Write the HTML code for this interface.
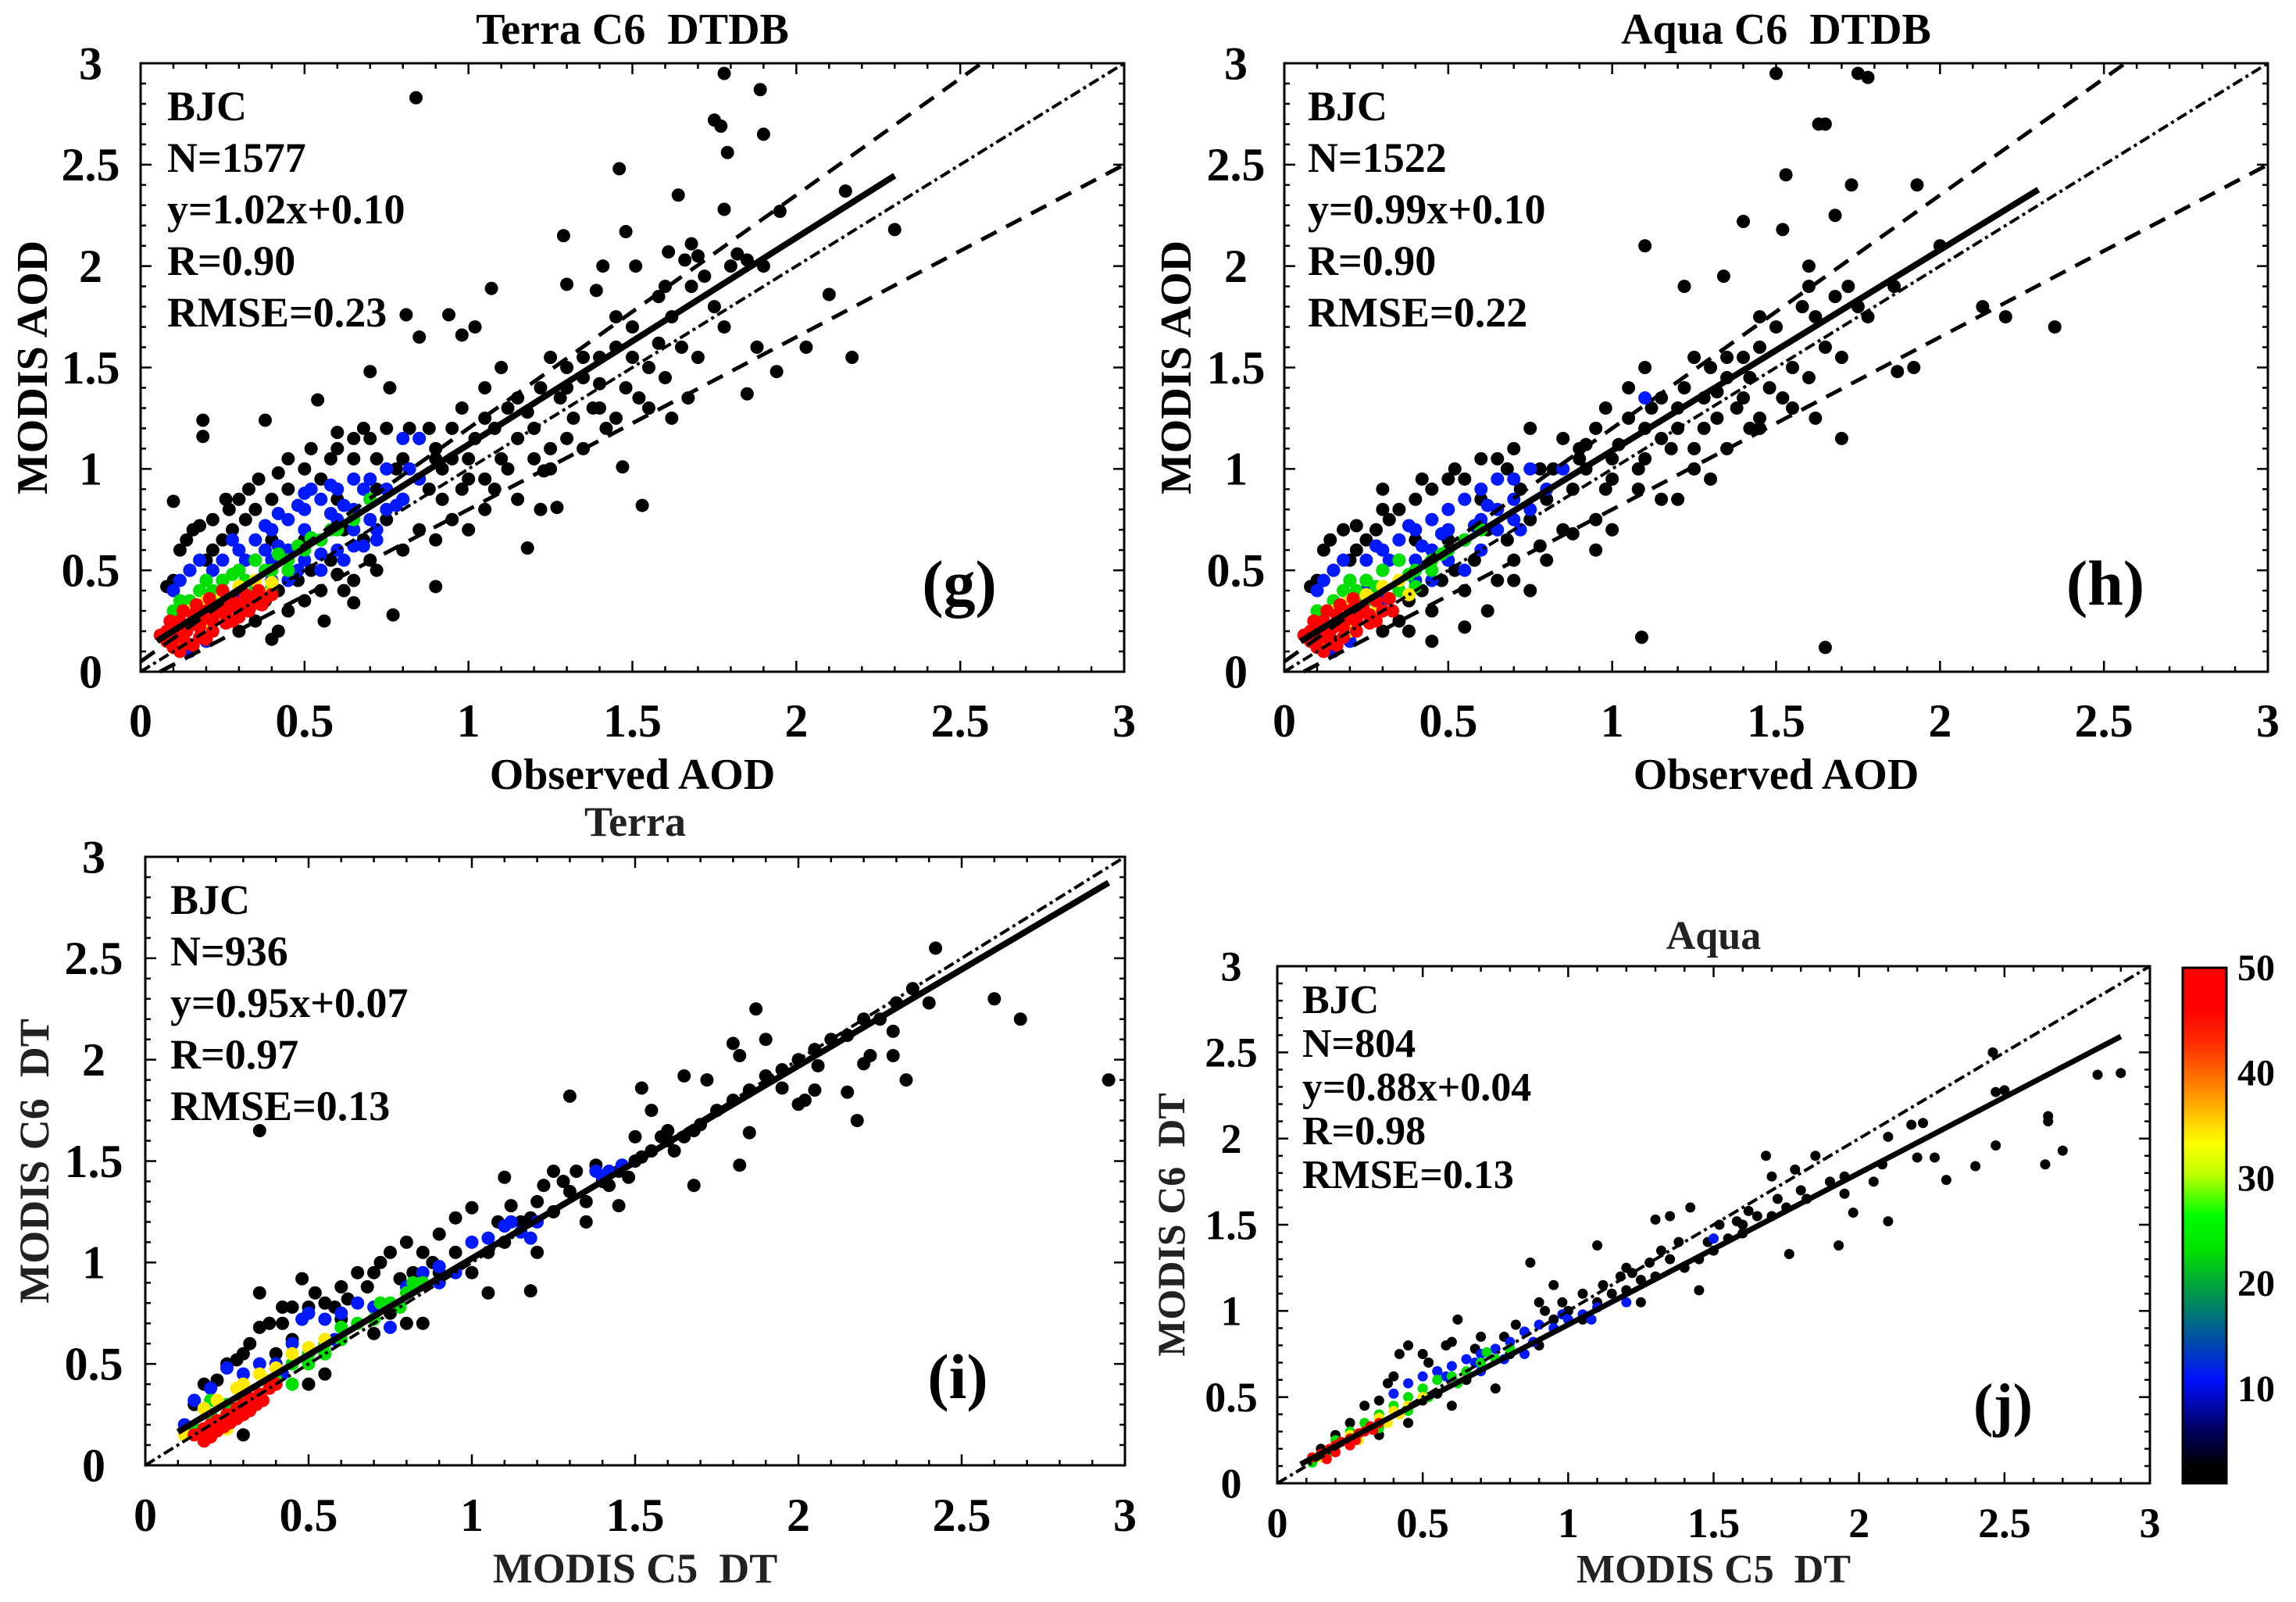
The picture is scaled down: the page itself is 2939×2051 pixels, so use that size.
<!DOCTYPE html>
<html><head><meta charset="utf-8"><style>
html,body{margin:0;padding:0;background:#fff;}
svg{display:block;font-family:"Liberation Serif",serif;font-weight:bold;}
text{white-space:pre;}
</style></head><body>
<svg id="fig" width="2939" height="2051" viewBox="0 0 2939 2051" xmlns="http://www.w3.org/2000/svg"></svg>
<script>
// ---------- data ----------
const tickValues = [0, 0.5, 1, 1.5, 2, 2.5, 3];
const tickLabels = ["0", "0.5", "1", "1.5", "2", "2.5", "3"];

const gBlack = [[0.84,2.83],[1.78,2.95],[1.89,2.87],[1.75,2.72],[1.77,2.69],[1.90,2.65],[1.79,2.56],[1.46,2.48],[2.15,2.37],[1.64,2.35],[1.78,2.28],[1.95,2.27],[2.30,2.18],[1.29,2.15],[1.48,2.17],[1.61,2.07],[1.68,2.11],[1.66,2.03],[1.41,2.0],[1.51,2.0],[1.30,1.91],[1.07,1.89],[1.39,1.88],[1.82,2.06],[1.85,2.03],[2.10,1.86],[2.17,1.55],[2.03,1.60],[1.88,1.60],[1.94,1.48],[1.85,1.37],[1.67,1.35],[1.47,1.01],[1.53,0.82],[1.18,0.61],[1.22,0.80],[1.27,0.81],[1.23,0.99],[0.94,1.76],[0.81,1.76],[0.85,1.65],[0.98,1.66],[1.02,1.70],[0.70,1.48],[0.76,1.40],[0.54,1.34],[0.19,1.24],[0.19,1.16],[0.38,1.24],[0.10,0.84],[0.90,0.42],[0.77,0.28],[0.65,0.34],[0.56,0.25],[0.40,0.16],
[0.9,1.1],[0.95,1.2],[1.0,0.95],[1.05,1.25],[1.1,1.05],[1.12,1.3],[1.15,1.15],[1.2,1.2],[1.22,1.4],[1.25,1.1],[1.28,1.35],[1.3,1.5],[1.32,1.25],[1.35,1.45],[1.38,1.3],[1.4,1.55],[1.42,1.2],[1.45,1.6],[1.48,1.4],[1.5,1.7],[1.52,1.35],[1.55,1.5],[1.58,1.85],[1.6,1.45],[1.62,1.75],[1.65,1.6],[1.68,1.9],[1.7,1.55],[1.72,1.95],[1.75,1.8],[1.78,1.7],[1.8,2.0],[1.6,1.9],[1.35,1.55],[1.15,1.35],[1.05,1.4],[0.98,1.3],[0.92,1.0],[0.88,0.9],[0.85,1.15],[0.8,0.85],[0.78,1.0],[0.75,0.75],[0.72,0.9],[0.7,1.15],[0.68,0.65],[0.65,1.05],[0.62,0.7],[0.6,1.1],[0.58,0.55],[0.55,0.95],[0.52,0.5],[0.5,1.0],[0.48,0.45],[0.45,0.9],[0.42,0.4],[0.4,0.85],[0.38,0.35],[0.35,0.8],[0.32,0.75],[0.3,0.85],[0.28,0.7],[0.25,0.65],[0.22,0.6],[0.2,0.55],[0.18,0.72],[0.15,0.5],[0.12,0.6],[0.1,0.45],[0.08,0.42],[0.3,0.2],[0.35,0.25],[0.45,0.3],[0.55,0.4],[0.65,0.45],[0.7,0.55],[0.85,0.7],[0.95,0.75],[1.0,0.7],[1.08,0.9],[1.15,0.85],[1.25,1.0],[1.35,1.1],[1.45,1.25],[1.55,1.3],[1.62,1.25],[1.0,1.05],[0.9,1.05],[0.6,0.85],[0.4,0.65],[0.25,0.45],[0.5,0.65],[0.75,1.2],[1.1,1.5],[1.25,1.55],[1.45,1.75],[1.7,2.05],[1.9,2.0],[0.33,0.9],[0.27,0.8],[0.45,1.05],[0.6,1.18],[0.65,1.15],[0.82,1.2],
[0.14,0.65],[0.16,0.7],[0.22,0.75],[0.26,0.85],[0.36,0.95],[0.42,0.98],[0.52,1.1],[0.58,1.05],[0.68,1.2],[0.72,1.05],[0.8,1.05],[0.88,1.2],[0.95,1.05],[1.02,1.15],[1.08,1.2],[1.18,1.28],[1.3,1.4],[1.4,1.42],[1.5,1.55],[1.58,1.62],[0.92,0.85],[0.98,0.9],[1.05,0.95],[1.12,1.0],[1.2,1.05],[1.3,1.15],[1.4,1.3],[0.62,0.4],[0.72,0.5],[0.8,0.6],[0.9,0.65],[1.05,0.8],[0.42,0.2],[0.5,0.35],[0.6,0.48]];
const gBlue = [[0.1,0.4],[0.15,0.5],[0.2,0.45],[0.25,0.55],[0.3,0.6],[0.35,0.65],[0.4,0.7],[0.45,0.75],[0.5,0.8],[0.55,0.85],[0.6,0.9],[0.65,0.95],[0.7,0.95],[0.75,1.0],[0.8,1.15],[0.85,1.15],[0.5,0.55],[0.55,0.5],[0.6,0.6],[0.65,0.7],[0.7,0.75],[0.75,0.8],[0.45,0.45],[0.4,0.45],[0.3,0.35],[0.35,0.4],[0.2,0.15],[0.15,0.1],[0.45,0.6],[0.55,0.65],[0.6,0.75],[0.35,0.55],[0.25,0.4],[0.4,0.55],[0.5,0.7],[0.3,0.5],[0.2,0.35],[0.65,0.8],[0.7,0.85],[0.75,0.9],[0.8,0.85],[0.85,0.95],[0.28,0.65],[0.38,0.72],[0.48,0.82],[0.58,0.92],[0.62,0.55],[0.68,0.62],[0.52,0.9],[0.42,0.62],[0.32,0.55],[0.42,0.78],[0.5,0.88],[0.58,0.78],[0.62,0.82],[0.68,0.9],[0.72,0.7],[0.78,0.82],[0.82,1.0],[0.38,0.6],[0.22,0.5],[0.12,0.45],[0.18,0.55],[0.48,0.5],[0.55,0.58],[0.65,0.62],[0.72,0.65]];
const gGreen = [[0.1,0.3],[0.15,0.35],[0.2,0.45],[0.25,0.45],[0.3,0.5],[0.35,0.55],[0.4,0.5],[0.45,0.55],[0.5,0.6],[0.55,0.65],[0.6,0.7],[0.65,0.75],[0.7,0.85],[0.35,0.4],[0.4,0.42],[0.3,0.3],[0.25,0.35],[0.2,0.3],[0.18,0.4],[0.45,0.5],[0.22,0.4],[0.28,0.48],[0.32,0.45],[0.38,0.5],[0.42,0.58],[0.48,0.62],[0.52,0.66],[0.58,0.7],[0.12,0.35]];
const gYellow = [[0.1,0.22],[0.15,0.3],[0.2,0.35],[0.25,0.38],[0.3,0.42],[0.35,0.45],[0.2,0.2],[0.28,0.3],[0.38,0.38],[0.12,0.15],[0.18,0.32],[0.32,0.34],[0.4,0.44]];
const gRed = [[0.06,0.18],[0.08,0.15],[0.1,0.2],[0.12,0.25],[0.14,0.2],[0.16,0.28],[0.18,0.22],[0.2,0.3],[0.22,0.25],[0.24,0.32],[0.26,0.28],[0.28,0.35],[0.3,0.3],[0.32,0.38],[0.34,0.33],[0.36,0.4],[0.38,0.36],[0.1,0.12],[0.14,0.14],[0.18,0.17],[0.22,0.2],[0.26,0.24],[0.3,0.27],[0.09,0.25],[0.13,0.3],[0.17,0.33],[0.21,0.36],[0.25,0.4],[0.12,0.1],[0.16,0.13],[0.2,0.16],[0.08,0.2],[0.28,0.25],[0.33,0.3],[0.37,0.33],[0.4,0.38],[0.11,0.17],[0.15,0.23],[0.19,0.26],[0.23,0.29],[0.27,0.32],[0.31,0.34],[0.35,0.37]];

const hBlack = [[1.50,2.95],[1.75,2.95],[1.78,2.93],[1.65,2.7],[1.63,2.7],[1.73,2.4],[1.53,2.45],[1.93,2.4],[1.68,2.25],[1.40,2.22],[1.52,2.18],[1.10,2.1],[1.34,1.95],[1.60,2.0],[2.00,2.1],[1.22,1.9],[2.20,1.75],[2.13,1.8],[2.35,1.7],[1.92,1.5],[1.87,1.48],[1.45,1.2],[1.40,1.35],[1.70,1.15],[1.09,0.17],[1.65,0.12],[0.55,0.22],[1.86,1.9],[1.78,1.75],
[0.9,1.1],[0.95,1.2],[1.0,0.95],[1.05,1.25],[1.1,1.05],[1.12,1.3],[1.15,1.15],[1.2,1.2],[1.22,1.4],[1.25,1.1],[1.28,1.35],[1.3,1.5],[1.32,1.25],[1.35,1.45],[1.38,1.3],[1.4,1.55],[1.42,1.2],[1.45,1.6],[1.48,1.4],[1.5,1.7],[1.52,1.35],[1.55,1.5],[1.58,1.8],[1.6,1.45],[1.62,1.75],[1.65,1.6],[1.68,1.85],[1.7,1.55],[1.72,1.9],[1.75,1.8],[1.6,1.9],[1.35,1.55],[1.15,1.35],[1.05,1.4],[0.98,1.3],[0.92,1.0],[0.88,0.9],[0.85,1.15],[0.8,0.85],[0.78,1.0],[0.75,0.75],[0.72,0.9],[0.7,1.1],[0.68,0.65],[0.65,1.05],[0.62,0.7],[0.6,1.05],[0.58,0.55],[0.55,0.95],[0.52,0.5],[0.5,0.95],[0.48,0.45],[0.45,0.9],[0.42,0.4],[0.4,0.85],[0.38,0.35],[0.35,0.8],[0.32,0.75],[0.3,0.8],[0.28,0.7],[0.25,0.65],[0.22,0.6],[0.2,0.55],[0.18,0.7],[0.15,0.5],[0.12,0.6],[0.1,0.45],[0.08,0.42],[0.3,0.2],[0.35,0.25],[0.45,0.3],[0.55,0.4],[0.65,0.45],[0.7,0.55],[0.85,0.7],[0.95,0.75],[1.0,0.7],[1.08,0.9],[1.15,0.85],[1.25,1.0],[1.35,1.1],[1.45,1.25],[1.55,1.3],[1.62,1.25],[1.0,1.05],[0.9,1.05],[0.6,0.85],[0.4,0.65],[0.25,0.45],[0.5,0.65],[0.75,1.2],[1.1,1.5],[1.25,1.55],[1.45,1.75],[0.2,0.25],[0.15,0.15],[0.38,0.2],[0.45,0.15],[0.62,0.3],[0.75,0.4],[0.8,0.55],[0.95,0.6],[1.2,0.85],[1.3,0.95],
[0.14,0.65],[0.22,0.72],[0.3,0.9],[0.42,0.95],[0.52,1.0],[0.68,1.0],[0.82,1.0],[0.92,1.12],[1.02,1.12],[1.1,1.2],[1.2,1.3],[1.32,1.38],[1.42,1.45],[0.98,0.9],[1.08,1.0],[1.18,1.1],[1.28,1.2],[0.7,0.45],[0.78,0.62],[0.88,0.68]];
const hBlue = [[0.1,0.4],[0.15,0.5],[0.2,0.45],[0.25,0.55],[0.3,0.6],[0.35,0.65],[0.4,0.7],[0.45,0.75],[0.5,0.8],[0.55,0.85],[0.6,0.9],[0.65,0.95],[0.7,0.95],[0.75,1.0],[0.5,0.55],[0.55,0.5],[0.6,0.6],[0.65,0.7],[0.7,0.75],[0.75,0.8],[0.45,0.45],[0.4,0.45],[0.3,0.35],[0.35,0.4],[0.2,0.15],[0.15,0.1],[0.45,0.6],[0.55,0.65],[0.6,0.75],[0.35,0.55],[0.25,0.4],[0.4,0.55],[0.5,0.7],[0.3,0.5],[0.2,0.35],[0.65,0.8],[0.7,0.85],[0.8,0.9],[0.85,1.0],[0.38,0.72],[1.1,1.35],[0.32,0.55],[0.42,0.62],[0.48,0.68],[0.58,0.72],[0.62,0.82],[0.72,0.7],[0.12,0.45],[0.18,0.55],[0.28,0.62]];
const hGreen = [[0.1,0.3],[0.15,0.35],[0.2,0.45],[0.25,0.45],[0.3,0.5],[0.35,0.55],[0.4,0.5],[0.45,0.55],[0.5,0.6],[0.55,0.65],[0.6,0.7],[0.35,0.4],[0.4,0.42],[0.3,0.3],[0.25,0.35],[0.2,0.3],[0.18,0.4],[0.45,0.5],[0.22,0.4],[0.28,0.42],[0.38,0.48],[0.48,0.58]];
const hYellow = [[0.1,0.22],[0.15,0.3],[0.2,0.35],[0.25,0.38],[0.3,0.42],[0.35,0.45],[0.2,0.2],[0.28,0.3],[0.38,0.38],[0.12,0.15],[0.18,0.3],[0.32,0.36]];
const hRed = [[0.06,0.18],[0.08,0.15],[0.1,0.2],[0.12,0.25],[0.14,0.2],[0.16,0.28],[0.18,0.22],[0.2,0.3],[0.22,0.25],[0.24,0.32],[0.26,0.28],[0.28,0.35],[0.3,0.3],[0.32,0.36],[0.1,0.12],[0.14,0.14],[0.18,0.17],[0.22,0.2],[0.26,0.24],[0.09,0.25],[0.13,0.3],[0.17,0.33],[0.21,0.36],[0.12,0.1],[0.16,0.13],[0.08,0.2],[0.28,0.25],[0.33,0.3],[0.11,0.17],[0.15,0.22],[0.19,0.26],[0.23,0.29]];

const iBlack = [[2.95,1.9],[2.68,2.2],[2.6,2.3],[2.42,2.55],[2.4,2.28],[2.33,1.9],[2.29,2.14],[2.29,2.02],[2.22,2.02],[2.2,1.98],[2.18,1.7],[2.15,1.84],[2.06,1.97],[2.05,1.85],[2.02,1.8],[2.0,1.78],[1.95,1.86],[1.9,2.1],[1.87,2.25],[1.82,2.02],[1.8,2.08],[1.85,1.64],[1.82,1.48],[1.72,1.9],[1.68,1.38],[1.65,1.92],[1.6,1.65],[1.55,1.75],[1.5,1.62],[1.52,1.86],[1.3,1.82],[0.35,1.65],[1.1,1.42],[1.05,0.85],[1.18,0.86],[1.0,1.27],[0.95,1.22],[0.9,1.14],[0.85,1.05],[0.8,1.1],[0.75,1.05],[0.72,1.0],[0.7,0.95],[0.65,0.95],[0.6,0.88],[0.55,0.8],[0.5,0.78],[0.48,0.92],[0.45,0.78],[0.42,0.7],[0.38,0.7],[0.35,0.68],[0.32,0.6],[0.3,0.55],[0.28,0.52],[0.25,0.5],[0.22,0.42],[0.18,0.4],[0.15,0.3],[0.35,0.85],[0.4,0.55],[0.45,0.62],[0.55,0.55],[0.6,0.72],[0.7,0.65],[0.85,0.7],[0.9,0.95],[1.0,0.95],[1.05,1.05],[1.1,1.1],[1.15,1.2],[1.2,1.3],[1.25,1.25],[1.25,1.45],[1.3,1.35],[1.35,1.3],[1.4,1.4],[1.45,1.45],[1.5,1.5],[1.55,1.55],[1.6,1.6],[1.65,1.62],[1.7,1.68],[1.75,1.75],[1.8,1.8],[1.85,1.85],[1.9,1.92],[1.95,1.95],[2.0,2.0],[2.05,2.05],[2.1,2.1],[2.15,2.12],[2.2,2.2],[2.25,2.2],[2.3,2.28],[2.35,2.35],[1.35,1.2],[1.45,1.28],[1.2,1.05],[0.55,0.45],[0.5,0.4],[0.3,0.15],[0.8,0.7],[0.75,0.75],
[0.42,0.78],[0.52,0.85],[0.58,0.78],[0.62,0.82],[0.68,0.88],[0.78,0.92],[0.82,0.95],[0.88,1.0],[0.95,1.05],[1.08,1.2],[1.12,1.28],[1.18,1.22],[1.22,1.38],[1.28,1.4],[1.32,1.45],[1.38,1.48],[1.42,1.38],[1.48,1.42],[1.52,1.52],[1.58,1.62],[1.62,1.55],[1.68,1.65]];
const iBlue = [[0.12,0.2],[0.15,0.32],[0.2,0.38],[0.25,0.48],[0.3,0.45],[0.35,0.5],[0.4,0.5],[0.45,0.6],[0.5,0.75],[0.48,0.72],[0.55,0.72],[0.6,0.75],[0.65,0.8],[0.7,0.78],[0.75,0.68],[0.8,0.88],[0.85,0.95],[0.9,0.9],[0.95,0.95],[1.0,1.1],[1.05,1.12],[1.1,1.18],[1.15,1.15],[1.2,1.2],[1.38,1.45],[1.42,1.45],[1.46,1.48],[0.42,0.45],[0.58,0.62],[1.12,1.2],[1.18,1.12],[1.4,1.42],[0.9,0.98]];
const iGreen = [[0.15,0.18],[0.2,0.25],[0.25,0.3],[0.3,0.32],[0.35,0.35],[0.4,0.42],[0.45,0.5],[0.5,0.55],[0.55,0.6],[0.6,0.62],[0.65,0.7],[0.7,0.72],[0.75,0.8],[0.8,0.85],[0.85,0.9],[0.2,0.32],[0.3,0.25],[0.45,0.4],[0.6,0.68],[0.72,0.8],[0.78,0.78],[0.82,0.9],[0.5,0.5],[0.55,0.55]];
const iYellow = [[0.12,0.15],[0.18,0.28],[0.22,0.32],[0.28,0.38],[0.35,0.45],[0.4,0.48],[0.45,0.55],[0.5,0.58],[0.55,0.62],[0.2,0.15],[0.25,0.18],[0.3,0.4],[0.38,0.42]];
const iRed = [[0.15,0.15],[0.18,0.18],[0.2,0.2],[0.22,0.22],[0.25,0.25],[0.28,0.28],[0.3,0.3],[0.32,0.33],[0.35,0.35],[0.38,0.38],[0.4,0.4],[0.18,0.12],[0.22,0.17],[0.26,0.21],[0.3,0.25],[0.34,0.3],[0.2,0.14],[0.24,0.19],[0.28,0.23],[0.32,0.27],[0.36,0.32]];

const jBlack = [[2.9,2.38],[2.82,2.37],[2.7,1.93],[2.65,2.13],[2.65,2.1],[2.64,1.85],[2.5,2.28],[2.47,2.27],[2.46,2.5],[2.47,1.96],[2.4,1.84],[2.3,1.76],[2.26,1.89],[2.22,2.09],[2.18,2.08],[2.2,1.89],[2.1,2.01],[2.1,1.52],[2.08,1.85],[2.05,1.75],[1.98,1.57],[1.95,1.68],[1.93,1.38],[1.85,1.9],[1.82,1.65],[1.78,1.82],[1.76,1.33],[1.7,1.78],[1.68,1.9],[1.65,1.55],[1.6,1.5],[1.5,1.35],[1.45,1.12],[1.42,1.6],[1.35,1.55],[1.3,1.53],[1.1,1.38],[0.87,1.28],[0.95,1.15],[0.62,0.95],[0.6,0.82],[0.45,0.8],[0.5,0.75],[0.38,0.58],[0.3,0.45],[0.25,0.35],[0.2,0.28],[0.15,0.2],[0.35,0.48],[0.4,0.62],[0.55,0.65],[0.65,0.6],[0.7,0.85],[0.75,0.72],[0.8,0.75],[0.85,0.88],[0.9,0.8],[0.95,0.95],[1.0,1.0],[1.05,0.95],[1.1,1.05],[1.15,1.1],[1.2,1.12],[1.25,1.18],[1.3,1.2],[1.35,1.3],[1.4,1.25],[1.45,1.3],[1.55,1.42],[1.6,1.45],[1.7,1.55],[1.75,1.6],[1.8,1.7],[1.9,1.75],[1.95,1.78],[0.6,0.45],[0.55,0.52],[0.5,0.48],[0.45,0.35],[0.35,0.28],[0.75,0.55],[1.25,1.05],[0.9,1.05],[1.2,1.25],
[0.42,0.75],[0.52,0.7],[0.58,0.8],[0.68,0.78],[0.78,0.85],[0.82,0.92],[0.92,1.0],[0.98,1.05],[1.05,1.1],[1.12,1.15],[1.18,1.2],[1.22,1.22],[1.28,1.28],[1.32,1.35],[1.38,1.4],[1.48,1.4],[1.52,1.5],[1.58,1.52],[1.62,1.58],[1.72,1.65]];
const jBlue = [[0.4,0.52],[0.45,0.58],[0.5,0.62],[0.55,0.65],[0.6,0.68],[0.65,0.72],[0.7,0.75],[0.75,0.78],[0.8,0.82],[0.85,0.88],[0.9,0.92],[0.95,0.9],[1.0,0.95],[1.05,0.98],[1.1,1.02],[1.2,1.05],[1.5,1.42],[0.7,0.65],[0.85,0.75],[0.58,0.62],[0.68,0.7],[0.78,0.72],[0.88,0.82],[0.98,0.98],[1.08,0.95]];
const jGreen = [[0.12,0.12],[0.2,0.25],[0.3,0.35],[0.35,0.4],[0.4,0.45],[0.45,0.5],[0.5,0.55],[0.55,0.6],[0.6,0.62],[0.65,0.65],[0.7,0.7],[0.75,0.72],[0.8,0.78],[0.35,0.32],[0.45,0.42],[0.18,0.18],[0.25,0.3],[0.52,0.5],[0.62,0.58],[0.72,0.76]];
const jYellow = [[0.15,0.15],[0.2,0.2],[0.25,0.28],[0.3,0.3],[0.35,0.38],[0.4,0.42],[0.45,0.45],[0.5,0.5],[0.38,0.35],[0.28,0.25],[0.42,0.4]];
const jRed = [[0.12,0.15],[0.15,0.17],[0.18,0.2],[0.2,0.22],[0.22,0.24],[0.25,0.26],[0.28,0.29],[0.3,0.3],[0.32,0.33],[0.35,0.35],[0.2,0.18],[0.25,0.22],[0.17,0.14],[0.27,0.25],[0.33,0.31]];

const cbarValues = [10, 20, 30, 40, 50];

// ---------- drawing ----------
const NS = "http://www.w3.org/2000/svg";
const svg = document.getElementById("fig");
function mk(tag, attrs, parent) {
  const e = document.createElementNS(NS, tag);
  for (const k in attrs) e.setAttribute(k, attrs[k]);
  (parent || svg).appendChild(e);
  return e;
}
const COL = {black:"#000", blue:"#0019ff", green:"#00e000", yellow:"#ffea00", red:"#ff0000"};

function panel(c) {
  const g = mk("g", {});
  
  
  const sx = v => c.x0 + (v / 3) * (c.x1 - c.x0);
  const sy = v => c.y1 - (v / 3) * (c.y1 - c.y0);
  const fs = c.fs;
  const t = mk("text", {x: (c.x0 + c.x1) / 2, y: c.titleY, "font-size": c.titleFs, "text-anchor": "middle", fill: c.textColor}, g);
  t.textContent = c.title;
  
  
  const pts = mk("g", {}, g);
  
  
  const layers = [["black", c.black], ["blue", c.blue], ["green", c.green], ["yellow", c.yellow], ["red", c.red]];
  for (const [cn, arr] of layers) {
    for (const p of arr) {
      const d = mk("circle", {cx: sx(p[0]), cy: sy(p[1]), r: c.r, fill: COL[cn]}, pts);
      
      
    }
  }
  const l1 = mk("line", {x1: sx(0), y1: sy(0), x2: sx(3), y2: sy(3), stroke: "#000", "stroke-width": 4, "stroke-dasharray": "14 5 4 5"}, g);
  
  
  if (c.envelope) {
    const up = mk("line", {x1: sx(0), y1: sy(0.05), x2: sx(2.565), y2: sy(0.05 + 1.15 * 2.565), stroke: "#000", "stroke-width": 5, "stroke-dasharray": "22 14"}, g);
    
    
    const lo = mk("line", {x1: sx(0.0588), y1: sy(0), x2: sx(3), y2: sy(0.85 * 3 - 0.05), stroke: "#000", "stroke-width": 5, "stroke-dasharray": "22 14"}, g);
    
    
  }
  const fit = mk("line", {x1: sx(c.fitX[0]), y1: sy(c.slope * c.fitX[0] + c.icpt), x2: sx(c.fitX[1]), y2: sy(c.slope * c.fitX[1] + c.icpt), stroke: "#000", "stroke-width": c.fitW}, g);
  
  
  const box = mk("rect", {x: c.x0, y: c.y0, width: c.x1 - c.x0, height: c.y1 - c.y0, fill: "none", stroke: "#000", "stroke-width": 3}, g);
  
  
  const tk = mk("g", {stroke: "#000", "stroke-width": 2.5}, g);
  
  
  for (let i = 0; i <= 30; i++) {
    const v = i / 10, len = (i % 5 === 0) ? 14 : 7;
    mk("line", {x1: sx(v), y1: c.y1, x2: sx(v), y2: c.y1 - len}, tk);
    mk("line", {x1: sx(v), y1: c.y0, x2: sx(v), y2: c.y0 + len}, tk);
    mk("line", {x1: c.x0, y1: sy(v), x2: c.x0 + len, y2: sy(v)}, tk);
    mk("line", {x1: c.x1, y1: sy(v), x2: c.x1 - len, y2: sy(v)}, tk);
  }
  tickValues.forEach((v, i) => {
    const xl = mk("text", {x: sx(v), y: c.xTickY, "font-size": fs, "text-anchor": "middle", fill: "#000"}, g);
    xl.textContent = tickLabels[i];
    
    
    const yl = mk("text", {x: c.yTickX, y: sy(v) + fs * 0.34, "font-size": fs, "text-anchor": "middle", fill: "#000"}, g);
    yl.textContent = tickLabels[i];
    
    
  });
  const xt = mk("text", {x: (c.x0 + c.x1) / 2, y: c.xTitleY, "font-size": c.axFs, "text-anchor": "middle", fill: c.textColor}, g);
  xt.textContent = c.xTitle;
  
  
  const yt = mk("text", {x: 0, y: 0, "font-size": c.yAxFs, "text-anchor": "middle", fill: c.textColor, transform: `translate(${c.yTitleX},${(c.y0 + c.y1) / 2}) rotate(-90)`}, g);
  yt.textContent = c.yTitle;
  
  
  c.stats.forEach((s, i) => {
    const st = mk("text", {x: c.x0 + c.statDx, y: c.statY + i * c.statGap, "font-size": c.statFs, fill: "#000"}, g);
    st.textContent = s;
    
    
  });
  const pl = mk("text", {x: c.letter[0], y: c.letter[1], "font-size": c.letterFs, "text-anchor": "middle", fill: "#000"}, g);
  pl.textContent = c.letterText;
  
  
}

panel({name: "panel-g", title: "Terra C6  DTDB", titleY: 56, titleFs: 56, textColor: "#000",
  x0: 180, x1: 1439, y0: 81, y1: 860, fs: 60, xTickY: 943, yTickX: 116, xTitle: "Observed AOD", xTitleY: 1010, axFs: 56, yAxFs: 56, yTitle: "MODIS AOD", yTitleX: 60,
  black: gBlack, blue: gBlue, green: gGreen, yellow: gYellow, red: gRed, r: 8.5, envelope: true,
  slope: 1.02, icpt: 0.10, fitX: [0.05, 2.3], fitW: 8,
  stats: ["BJC", "N=1577", "y=1.02x+0.10", "R=0.90", "RMSE=0.23"], statDx: 34, statY: 154, statGap: 66, statFs: 54,
  letter: [1228, 774], letterFs: 82, letterText: "(g)"});
panel({name: "panel-h", title: "Aqua C6  DTDB", titleY: 56, titleFs: 56, textColor: "#000",
  x0: 1644, x1: 2903, y0: 81, y1: 860, fs: 60, xTickY: 943, yTickX: 1582, xTitle: "Observed AOD", xTitleY: 1010, axFs: 56, yAxFs: 56, yTitle: "MODIS AOD", yTitleX: 1524,
  black: hBlack, blue: hBlue, green: hGreen, yellow: hYellow, red: hRed, r: 8.5, envelope: true,
  slope: 0.99, icpt: 0.10, fitX: [0.05, 2.3], fitW: 8,
  stats: ["BJC", "N=1522", "y=0.99x+0.10", "R=0.90", "RMSE=0.22"], statDx: 30, statY: 154, statGap: 66, statFs: 54,
  letter: [2695, 774], letterFs: 82, letterText: "(h)"});
panel({name: "panel-i", title: "Terra", titleY: 1070, titleFs: 54, textColor: "#222",
  x0: 186, x1: 1440, y0: 1097, y1: 1876, fs: 60, xTickY: 1960, yTickX: 120, xTitle: "MODIS C5  DT", xTitleY: 2026, axFs: 54, yAxFs: 54, yTitle: "MODIS C6  DT", yTitleX: 62,
  black: iBlack, blue: iBlue, green: iGreen, yellow: iYellow, red: iRed, r: 8.5, envelope: false,
  slope: 0.95, icpt: 0.07, fitX: [0.1, 2.95], fitW: 8,
  stats: ["BJC", "N=936", "y=0.95x+0.07", "R=0.97", "RMSE=0.13"], statDx: 32, statY: 1170, statGap: 66, statFs: 54,
  letter: [1226, 1790], letterFs: 82, letterText: "(i)"});
panel({name: "panel-j", title: "Aqua", titleY: 1215, titleFs: 52, textColor: "#222",
  x0: 1635, x1: 2752, y0: 1237, y1: 1899, fs: 54, xTickY: 1968, yTickX: 1576, xTitle: "MODIS C5  DT", xTitleY: 2026, axFs: 52, yAxFs: 50, yTitle: "MODIS C6  DT", yTitleX: 1516,
  black: jBlack, blue: jBlue, green: jGreen, yellow: jYellow, red: jRed, r: 6.5, envelope: false,
  slope: 0.88, icpt: 0.04, fitX: [0.08, 2.9], fitW: 7,
  stats: ["BJC", "N=804", "y=0.88x+0.04", "R=0.98", "RMSE=0.13"], statDx: 32, statY: 1297, statGap: 56, statFs: 52,
  letter: [2564, 1824], letterFs: 76, letterText: "(j)"});

// colorbar
const defs = mk("defs", {});
const lg = mk("linearGradient", {id: "cb", x1: 0, y1: 1, x2: 0, y2: 0}, defs);
[[0,"#000"],[0.03,"#000"],[0.1,"#00005a"],[0.2,"#0010ff"],[0.3,"#006090"],[0.38,"#00a040"],[0.45,"#00e000"],[0.52,"#00ff00"],[0.6,"#c0ff00"],[0.66,"#ffff00"],[0.75,"#ff9900"],[0.85,"#ff3000"],[0.92,"#ff0000"],[1,"#ff0000"]].forEach(s => mk("stop", {offset: s[0], "stop-color": s[1]}, lg));
const cbTop = 1239, cbBot = 1899, cbMin = 1, cbMax = 50;
const cy = v => cbBot - (v - cbMin) / (cbMax - cbMin) * (cbBot - cbTop);
const cb = mk("rect", {x: 2794, y: cbTop, width: 56, height: cbBot - cbTop, fill: "url(#cb)", stroke: "#000", "stroke-width": 3});


cbarValues.forEach(v => {
  const t = mk("text", {x: 2864, y: cy(v) + 16, "font-size": 48, fill: "#000"});
  t.textContent = String(v);
  
  
});
</script>
</body></html>
